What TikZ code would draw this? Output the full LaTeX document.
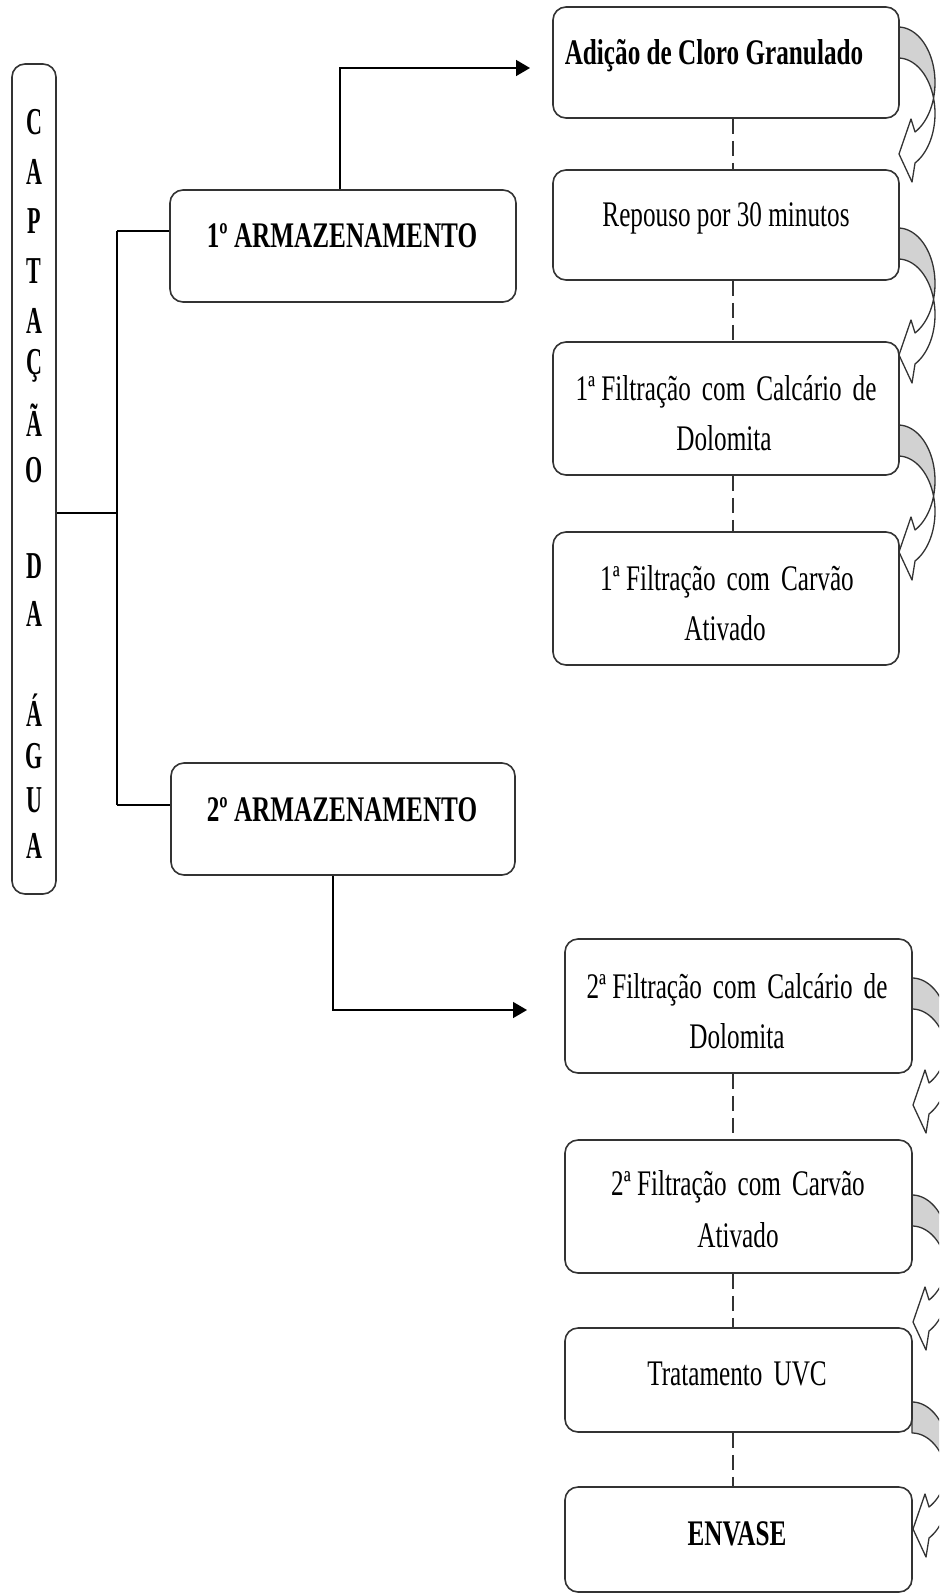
\documentclass[tikz,border=0pt]{standalone}
\usepackage{fontspec}
\setmainfont{Liberation Serif}[FakeStretch=0.7]
\newfontfamily\capfont{Liberation Serif}[FakeStretch=0.58]
\usetikzlibrary{arrows.meta,calc,fit}
\newcommand\gap{\hskip 5.5pt\relax}
\newcommand\curvarr[2]{%
  \draw[carr,fill=gray!35] plot[domain=90:-16.2,samples=30,variable=\t] ({#1+37*cos(\t)},{#2+55.6-55.6*sin(\t)})
     -- plot[domain=16.2:90,samples=30,variable=\t] ({#1+37*cos(\t)},{#2+86.6-55.6*sin(\t)}) -- cycle;
  \draw[carr,fill=white] plot[domain=16.2:-62.6,samples=30,variable=\t] ({#1+37*cos(\t)},{#2+86.6-55.6*sin(\t)})
     -- ({#1+14},{#2+155}) -- ({#1+1},{#2+127}) -- ({#1+13},{#2+92})
     -- plot[domain=-62.6:-16.2,samples=30,variable=\t] ({#1+37*cos(\t)},{#2+55.6-55.6*sin(\t)}) -- cycle;
}
\begin{document}
\begin{tikzpicture}[x=0.5pt,y=-0.5pt,
  box/.style={draw=black!80,line width=0.8pt,rounded corners=6.5pt,inner sep=0pt,fill=white},
  txt/.style={font=\fontsize{18pt}{25pt}\selectfont,inner sep=0pt,anchor=base},
  capl/.style={font=\capfont\fontsize{19pt}{22pt}\selectfont\bfseries,inner sep=0pt},
  conn/.style={line width=0.75pt,black},
  dline/.style={line width=0.7pt,black!80,dashed,dash pattern=on 7.5pt off 3.5pt},
  carr/.style={line width=0.65pt,black!80,line join=round},
  tip/.style={-{Triangle[length=7pt,width=8pt]}}]
\fill[white] (0,0) rectangle (939,1594);
\useasboundingbox (0,0) rectangle (939,1594);
\clip (0,0) rectangle (939,1594);
% curved arrows
\curvarr{898}{27}
\curvarr{898}{228}
\curvarr{898}{425}
\curvarr{912}{978}
\curvarr{912}{1195}
\curvarr{912}{1402}
% boxes
\node[box,fit={(12,64) (56,894)}] (capt) {};
\node[box,fit={(170,190) (516,302)}] (arm1) {};
\node[box,fit={(171,763) (515,875)}] (arm2) {};
\node[box,fit={(553,7) (899,118)}] (add) {};
\node[box,fit={(553,170) (899,280)}] (rep) {};
\node[box,fit={(553,342) (899,475)}] (f1c) {};
\node[box,fit={(553,532) (899,665)}] (f1v) {};
\node[box,fit={(565,939) (912,1073)}] (f2c) {};
\node[box,fit={(565,1140) (912,1273)}] (f2v) {};
\node[box,fit={(565,1328) (912,1432)}] (uvc) {};
\node[box,fit={(565,1487) (912,1592)}] (env) {};
% texts
\foreach \l/\y [count=\i] in {C/122,A/172,P/221,T/271,A/321,Ç/366,Ã/420,O/470,D/566,A/614,Á/710,G/756,U/800,A/846}
  \node[capl] (cl\i) at (34,\y) {\l};
\node[txt] (tarm1) at (342,248) {\bfseries 1º ARMAZENAMENTO};
\node[txt] (tarm2) at (342,821) {\bfseries 2º ARMAZENAMENTO};
\node[txt] (tadd) at (714,65) {\bfseries Adição de Cloro Granulado};
\node[txt] (trep) at (726,227) {Repouso por 30 minutos};
\node[txt] (tf1ca) at (726,400) {1ª Filtração\gap com\gap Calcário\gap de};
\node[txt] (tf1cb) at (724,450) {Dolomita};
\node[txt] (tf1va) at (727,590) {1ª Filtração\gap com\gap Carvão};
\node[txt] (tf1vb) at (725,640) {Ativado};
\node[txt] (tf2ca) at (737,998) {2ª Filtração\gap com\gap Calcário\gap de};
\node[txt] (tf2cb) at (737,1048) {Dolomita};
\node[txt] (tf2va) at (738,1195) {2ª Filtração\gap com\gap Carvão};
\node[txt] (tf2vb) at (738,1247) {Ativado};
\node[txt] (tuvc) at (737,1385) {Tratamento\gap UVC};
\node[txt] (tenv) at (737,1545) {\bfseries ENVASE};
% connectors
\coordinate (j) at (117,513);
\coordinate (j1) at (117,231);
\coordinate (j2) at (117,805);
\draw[conn] (capt.east |- j) -- (j);
\draw[conn] (j1) -- (j2);
\draw[conn] (j1) -- (arm1.west |- j1);
\draw[conn] (j2) -- (arm2.west |- j2);
\coordinate (a1) at (530,68);
\coordinate (a2) at (527,1010);
\coordinate (s1) at (340,0);
\coordinate (s2) at (333,0);
\draw[conn,tip] (arm1.north -| s1) |- (a1);
\draw[conn,tip] (arm2.south -| s2) |- (a2);
\coordinate (d1) at (733,0);
\draw[dline] (add.south -| d1) -- (rep.north -| d1);
\draw[dline] (rep.south -| d1) -- (f1c.north -| d1);
\draw[dline] (f1c.south -| d1) -- (f1v.north -| d1);
\draw[dline] (f2c.south -| d1) -- (f2v.north -| d1);
\draw[dline] (f2v.south -| d1) -- (uvc.north -| d1);
\draw[dline] (uvc.south -| d1) -- (env.north -| d1);
\end{tikzpicture}
\end{document}
